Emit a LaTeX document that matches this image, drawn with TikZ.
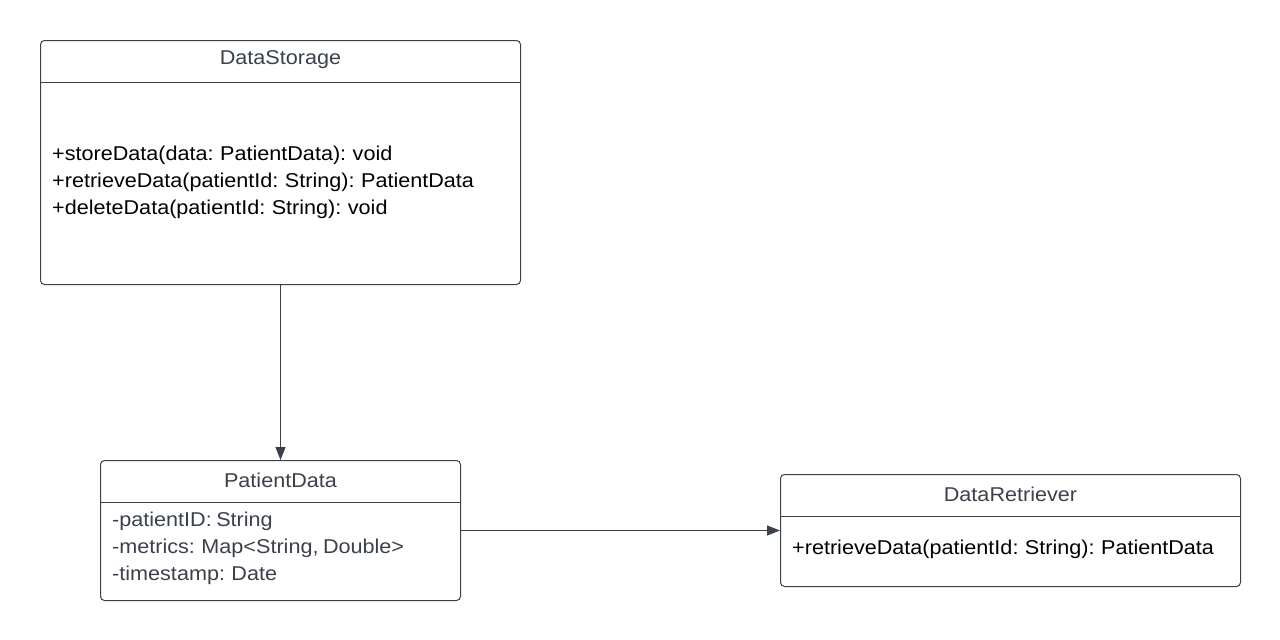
\documentclass[tikz,border=0pt]{standalone}
\usepackage{fontspec}
\setmainfont{Liberation Sans}[FakeStretch=1.08, WordSpace=0.75]
\usetikzlibrary{positioning,arrows.meta}
\definecolor{umlgray}{HTML}{3A414A}

\tikzset{
  classbox/.style={draw=umlgray, line width=1pt, rounded corners=4pt, anchor=north west, inner sep=0pt},
  classname/.style={text=umlgray, font=\fontsize{20}{27}\selectfont},
  members/.style={anchor=west, align=left, inner sep=0pt, font=\fontsize{20}{27}\selectfont},
  divider/.style={draw=umlgray, line width=1pt},
  assoc/.style={draw=umlgray, line width=1pt, -{Triangle[length=13pt,width=10pt]}}
}

\begin{document}
\begin{tikzpicture}[x=1pt,y=-1pt]
  \useasboundingbox (0,0) rectangle (1280,640);

  % class boxes
  \node[classbox, minimum width=480pt, minimum height=244pt] (storage) at (40,40) {};
  \node[classbox, minimum width=360pt, minimum height=140pt] (patient) at (100,460) {};
  \node[classbox, minimum width=460pt, minimum height=112pt] (retriever) at (780,474) {};

  % header lines
  \draw[divider] ([yshift=-42pt]storage.north west) -- ([yshift=-42pt]storage.north east);
  \draw[divider] ([yshift=-42pt]patient.north west) -- ([yshift=-42pt]patient.north east);
  \draw[divider] ([yshift=-42pt]retriever.north west) -- ([yshift=-42pt]retriever.north east);

  % names
  \node[classname] (storagename) at ([yshift=-20pt]storage.north) {DataStorage};
  \node[classname] (patientname) at ([yshift=-20pt]patient.north) {PatientData};
  \node[classname] (retrievername) at ([yshift=-20pt]retriever.north) {DataRetriever};

  % members
  \node[members] (storageops) at (52,182) {+storeData(data: PatientData): void\\+retrieveData(patientId: String): PatientData\\+deleteData(patientId: String): void};
  \node[members, text=umlgray] (patientattrs) at (112,548) {-patientID: String\\-metrics: Map<String, Double>\\-timestamp: Date};
  \node[members] (retrieverops) at (792,549) {+retrieveData(patientId: String): PatientData};

  % links
  \draw[assoc] (storage.south) -- (patient.north);
  \draw[assoc] (patient.east) -- (retriever.west);
\end{tikzpicture}
\end{document}
